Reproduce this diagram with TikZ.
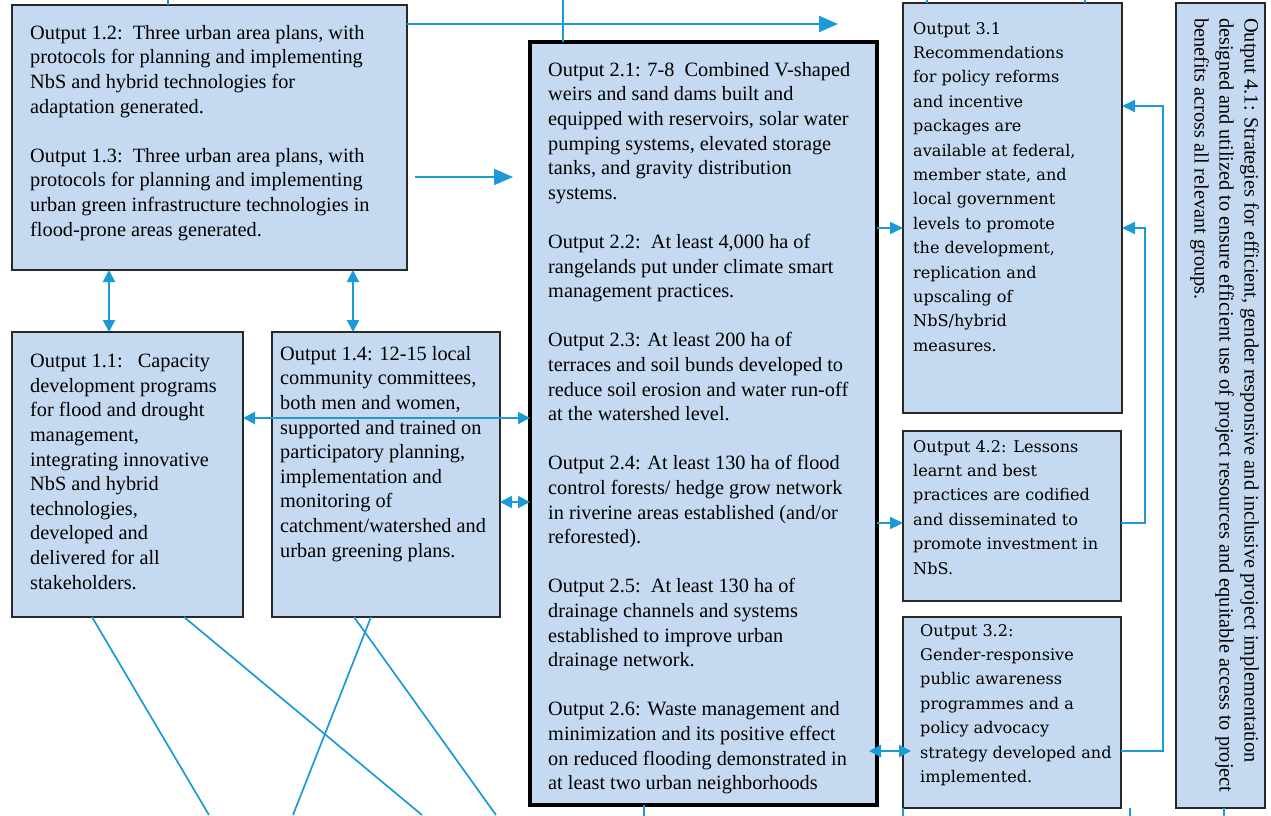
\documentclass[tikz,border=0pt]{standalone}
\usepackage{fontspec}
\setmainfont{Liberation Serif}
\newfontfamily\wideserif{DejaVu Serif}
\usetikzlibrary{arrows.meta}
\definecolor{boxfill}{RGB}{197,217,241}
\definecolor{boxline}{RGB}{40,40,40}
\definecolor{linkblue}{RGB}{27,154,214}
\tikzset{
  outbox/.style={draw=boxline, line width=1.8pt, fill=boxfill, anchor=north west, inner sep=0pt, outer sep=0pt},
  txt/.style={anchor=north west, inner sep=0pt, align=left, font=\fontsize{20.3}{24.6}\selectfont},
  widetxt/.style={anchor=north west, inner sep=0pt, align=left, font=\wideserif\fontsize{16.1}{24.4}\selectfont},
  link/.style={draw=linkblue, line width=2pt},
  onehead/.style={-{Triangle[length=13pt,width=12pt]}},
  bighead/.style={-{Triangle[length=19pt,width=16pt]}},
  twohead/.style={{Triangle[length=12pt,width=12pt]}-{Triangle[length=12pt,width=12pt]}}
}
\begin{document}
\begin{tikzpicture}[x=1pt, y=-1pt]
\path[use as bounding box, fill=white] (0,0) rectangle (1271,815);

% boxes
\node[outbox, line width=2.2pt, minimum width=395pt, minimum height=265pt](o12) at (12,5){};
\node[outbox, minimum width=231pt, minimum height=285pt](o11) at (12,332){};
\node[outbox, minimum width=228pt, minimum height=285pt](o14) at (272,332){};
\node[outbox, draw=black, line width=4pt, minimum width=347pt, minimum height=763pt](o2) at (530,42){};
\node[outbox, minimum width=219pt, minimum height=410pt](o31) at (903,3){};
\node[outbox, minimum width=218pt, minimum height=170pt](o42) at (903,431){};
\node[outbox, minimum width=218pt, minimum height=191pt](o32) at (903,617){};
\node[outbox, minimum width=89pt, minimum height=805pt](o41) at (1176,3){};

% texts
\node[txt](t12) at (30,25){Output 1.2:\ \ Three urban area plans, with\\
protocols for planning and implementing\\
NbS and hybrid technologies for\\
adaptation generated.\\[24.6pt]
Output 1.3:\ \ Three urban area plans, with\\
protocols for planning and implementing\\
urban green infrastructure technologies in\\
flood-prone areas generated.};
\node[txt](t11) at (30,354){Output 1.1:\ \ \ Capacity\\
development programs\\
for flood and drought\\
management,\\
integrating innovative\\
NbS and hybrid\\
technologies,\\
developed and\\
delivered for all\\
stakeholders.};
\node[txt](t14) at (280,346){Output 1.4: 12-15 local\\
community committees,\\
both men and women,\\
supported and trained on\\
participatory planning,\\
implementation and\\
monitoring of\\
catchment/watershed and\\
urban greening plans.};
\node[txt](t2) at (548,62){Output 2.1: 7-8\ \ Combined V-shaped\\
weirs and sand dams built and\\
equipped with reservoirs, solar water\\
pumping systems, elevated storage\\
tanks, and gravity distribution\\
systems.\\[24.6pt]
Output 2.2:\ \ At least 4,000 ha of\\
rangelands put under climate smart\\
management practices.\\[24.6pt]
Output 2.3: At least 200 ha of\\
terraces and soil bunds developed to\\
reduce soil erosion and water run-off\\
at the watershed level.\\[24.6pt]
Output 2.4: At least 130 ha of flood\\
control forests/ hedge grow network\\
in riverine areas established (and/or\\
reforested).\\[24.6pt]
Output 2.5:\ \ At least 130 ha of\\
drainage channels and systems\\
established to improve urban\\
drainage network.\\[24.6pt]
Output 2.6: Waste management and\\
minimization and its positive effect\\
on reduced flooding demonstrated in\\
at least two urban neighborhoods};
\node[widetxt](t31) at (913,22){Output 3.1\\
Recommendations\\
for policy reforms\\
and incentive\\
packages are\\
available at federal,\\
member state, and\\
local government\\
levels to promote\\
the development,\\
replication and\\
upscaling of\\
NbS/hybrid\\
measures.};
\node[widetxt](t42) at (913,440){Output 4.2: Lessons\\
learnt and best\\
practices are codified\\
and disseminated to\\
promote investment in\\
NbS.};
\node[widetxt](t32) at (920,624){Output 3.2:\\
Gender-responsive\\
public awareness\\
programmes and a\\
policy advocacy\\
strategy developed and\\
implemented.};
\node[txt, font=\fontsize{20.3}{25}\selectfont, rotate=-90](t41) at (1259,18){Output 4.1: Strategies for efficient, gender responsive and inclusive project implementation\\
designed and utilized to ensure efficient use of project resources and equitable access to project\\
benefits across all relevant groups.};

% connectors
\coordinate (upA) at (168,0);
\coordinate (up2) at (563,0);
\coordinate (goal) at (838,24);
\coordinate (gapL) at (415,177);
\coordinate (gapR) at (513,177);
\draw[link] (upA) -- (upA |- o12.north);
\draw[link] (up2) -- (up2 |- o2.north);
\draw[link, bighead] (goal -| o12.east) -- (goal);
\draw[link, bighead] (gapL) -- (gapR);
\draw[link, twohead] ([xshift=97pt]o12.south west) -- ([xshift=97pt]o11.north west);
\draw[link, twohead] ([xshift=341pt]o12.south west) -- ([xshift=81pt]o14.north west);
\draw[link, twohead] ([yshift=-86pt]o11.north east) -- ([yshift=-376pt]o2.north west);
\draw[link, twohead] ([yshift=-170pt]o14.north east) -- ([yshift=-460pt]o2.north west);
\draw[link, onehead] ([yshift=-186pt]o2.north east) -- ([yshift=-225pt]o31.north west);
\draw[link, onehead] ([yshift=-481pt]o2.north east) -- ([yshift=-92pt]o42.north west);
\draw[link, twohead, shorten <=-8pt, shorten >=-8pt] ([yshift=-709pt]o2.north east) -- ([yshift=-134pt]o32.north west);
\draw[link, onehead] ([yshift=-92pt]o42.north east) -- ++(24,0) |- ([yshift=-225pt]o31.north east);
\draw[link, onehead] ([yshift=-134pt]o32.north east) -- ++(42,0) |- ([yshift=-103pt]o31.north east);

% lines leaving the page
\coordinate (low1) at (209,815);
\coordinate (low2) at (422,815);
\coordinate (low3) at (293,815);
\coordinate (low4) at (496,815);
\draw[link, line width=1.7pt] ([xshift=80pt]o11.south west) -- (low1);
\draw[link, line width=1.7pt] ([xshift=172pt]o11.south west) -- (low2);
\draw[link, line width=1.7pt] ([xshift=99pt]o14.south west) -- (low3);
\draw[link, line width=1.7pt] ([xshift=82pt]o14.south west) -- (low4);
\draw[link] ([xshift=24pt]o31.north west) -- ++(0,-4);
\draw[link] ([xshift=182pt]o31.north west) -- ++(0,-4);
\draw[link] ([xshift=114pt]o2.south west) -- ++(0,12);
\draw[link] (o32.south west) -- ++(0,8);
\draw[link] ([xshift=227pt]o32.south west) -- ++(0,12);
\draw[link] ([xshift=48pt]o41.south west) -- ++(0,8);
\end{tikzpicture}
\end{document}
